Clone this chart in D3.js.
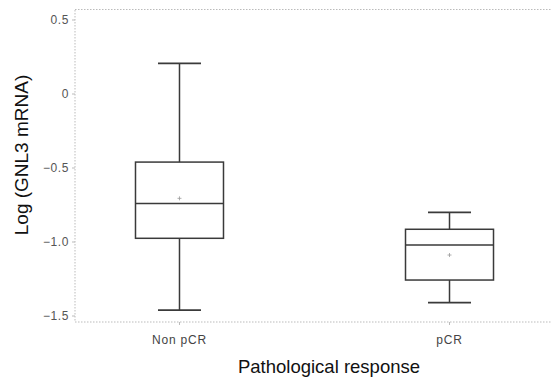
<!DOCTYPE html>
<html>
<head>
<meta charset="utf-8">
<script src="https://cdn.jsdelivr.net/npm/d3@7"></script>
<style>
  body { margin: 0; background: #fff; }
  svg { display: block; font-family: "Liberation Sans", Arial, sans-serif; }
</style>
</head>
<body>
<div id="vis"></div>
<script>
// Data
const groups = ["Non pCR", "pCR"];
const whiskerLow = [-1.46, -1.41];
const q1 = [-0.975, -1.257];
const medians = [-0.74, -1.02];
const q3 = [-0.46, -0.914];
const whiskerHigh = [0.207, -0.80];
const means = [-0.705, -1.088];
const yTicks = [0.5, 0, -0.5, -1.0, -1.5];
const yTickLabels = ["0.5", "0", "\u22120.5", "\u22121.0", "\u22121.5"];

const width = 551, height = 378;
const plotLeft = 75, plotRight = 554, plotTop = 9.5, plotBottom = 322;
const lineColor = "#3a3a3a";

const svg = d3.select("#vis").append("svg")
  .attr("width", width)
  .attr("height", height);

const x = d3.scalePoint().domain(groups).range([plotLeft, plotRight]).padding(0.387);
const y = d3.scaleLinear().domain([0, -1.5]).range([94, 316]);

// dotted frame
svg.append("rect")
  .attr("x", plotLeft).attr("y", plotTop)
  .attr("width", plotRight - plotLeft).attr("height", plotBottom - plotTop)
  .attr("fill", "none")
  .attr("stroke", "#bbb")
  .attr("stroke-dasharray", "1.5,1.5");

// y axis ticks + labels
const yAxis = svg.append("g");
yAxis.selectAll("line").data(yTicks).enter().append("line")
  .attr("x1", plotLeft - 3).attr("x2", plotLeft)
  .attr("y1", d => y(d)).attr("y2", d => y(d))
  .attr("stroke", "#bbb");
yAxis.selectAll("text").data(yTicks).enter().append("text")
  .attr("x", plotLeft - 6)
  .attr("y", d => y(d))
  .attr("dy", "0.35em")
  .attr("text-anchor", "end")
  .style("font-size", "12px")
  .style("letter-spacing", "0.6px")
  .style("fill", "#555")
  .text((d, i) => yTickLabels[i]);

// x axis ticks + labels
const xAxis = svg.append("g");
xAxis.selectAll("line").data(groups).enter().append("line")
  .attr("x1", d => x(d)).attr("x2", d => x(d))
  .attr("y1", plotBottom).attr("y2", plotBottom + 3)
  .attr("stroke", "#bbb");
xAxis.selectAll("text").data(groups).enter().append("text")
  .attr("x", d => x(d))
  .attr("y", 344)
  .attr("text-anchor", "middle")
  .style("font-size", "12px")
  .style("letter-spacing", "0.8px")
  .style("fill", "#444")
  .text(d => d);

// axis titles
svg.append("text")
  .attr("transform", "translate(28,155) rotate(-90)")
  .attr("text-anchor", "middle")
  .style("font-size", "19px")
  .style("fill", "#111")
  .text("Log (GNL3 mRNA)");

svg.append("text")
  .attr("x", 329)
  .attr("y", 373)
  .attr("text-anchor", "middle")
  .style("font-size", "18.5px")
  .style("fill", "#111")
  .text("Pathological response");

// boxes
const boxW = 88, capW = 43;
const box = svg.selectAll(".box")
  .data(groups)
  .enter()
  .append("g")
  .attr("class", "box")
  .attr("transform", d => `translate(${x(d)},0)`);

box.append("line")
  .attr("x1", 0).attr("x2", 0)
  .attr("y1", (d, i) => y(whiskerHigh[i]))
  .attr("y2", (d, i) => y(q3[i]))
  .attr("stroke", lineColor).attr("stroke-width", 1.5);
box.append("line")
  .attr("x1", 0).attr("x2", 0)
  .attr("y1", (d, i) => y(q1[i]))
  .attr("y2", (d, i) => y(whiskerLow[i]))
  .attr("stroke", lineColor).attr("stroke-width", 1.5);
box.append("line")
  .attr("x1", -capW / 2).attr("x2", capW / 2)
  .attr("y1", (d, i) => y(whiskerHigh[i]))
  .attr("y2", (d, i) => y(whiskerHigh[i]))
  .attr("stroke", lineColor).attr("stroke-width", 1.8);
box.append("line")
  .attr("x1", -capW / 2).attr("x2", capW / 2)
  .attr("y1", (d, i) => y(whiskerLow[i]))
  .attr("y2", (d, i) => y(whiskerLow[i]))
  .attr("stroke", lineColor).attr("stroke-width", 1.8);
box.append("rect")
  .attr("x", -boxW / 2)
  .attr("width", boxW)
  .attr("y", (d, i) => y(q3[i]))
  .attr("height", (d, i) => y(q1[i]) - y(q3[i]))
  .attr("fill", "none")
  .attr("stroke", lineColor).attr("stroke-width", 1.5);
box.append("line")
  .attr("x1", -boxW / 2).attr("x2", boxW / 2)
  .attr("y1", (d, i) => y(medians[i]))
  .attr("y2", (d, i) => y(medians[i]))
  .attr("stroke", lineColor).attr("stroke-width", 1.5);

// mean markers (+)
box.append("path")
  .attr("d", (d, i) => `M-2,${y(means[i])}H2M0,${y(means[i]) - 2}V${y(means[i]) + 2}`)
  .attr("stroke", "#999")
  .attr("stroke-width", 0.8);
</script>
</body>
</html>
